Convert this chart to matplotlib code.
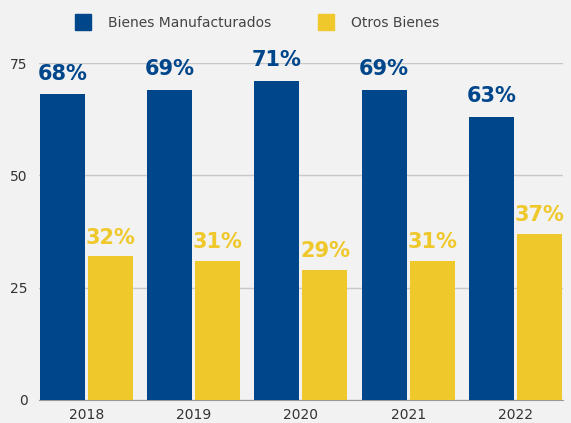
import numpy as np
import matplotlib.pyplot as plt
from matplotlib.lines import Line2D

years = ['2018', '2019', '2020', '2021', '2022']
manufacturados = [68, 69, 71, 69, 63]
otros = [32, 31, 29, 31, 37]
yticks = [0, 25, 50, 75]

BLUE = '#00468B'
YELLOW = '#EFC82C'
BG = '#F2F2F2'

plt.rcParams['font.family'] = ['DejaVu Sans']

fig = plt.figure(figsize=(5.71, 4.23), dpi=100, facecolor=BG)
ax = fig.add_axes([0.068, 0.0544, 0.918, 0.7966], facecolor=BG)

x = np.arange(len(years))
w = 0.42
off = 0.224
ax.bar(x - off, manufacturados, w, color=BLUE, zorder=3)
ax.bar(x + off, otros, w, color=YELLOW, zorder=3)

# value labels above each bar
for xi, v in zip(x, manufacturados):
    ax.text(xi - off, v + 2.4, f'{v}%', ha='center', va='bottom', color=BLUE,
            fontsize=15, fontweight='bold', zorder=4)
for xi, v in zip(x, otros):
    ax.text(xi + off, v + 1.9, f'{v}%', ha='center', va='bottom', color=YELLOW,
            fontsize=15, fontweight='bold', zorder=4)

ax.set_xlim(-0.445, 4.445)
ax.set_ylim(0, 75)
ax.set_yticks(yticks)
ax.set_xticks(x)
ax.set_xticklabels(years)
ax.tick_params(axis='both', length=0, labelsize=10, colors='#333333')
ax.tick_params(axis='x', pad=6)
ax.tick_params(axis='y', pad=8)
ax.grid(axis='y', color='#C8C8C8', linewidth=1, zorder=0)
for s in ['top', 'right', 'left']:
    ax.spines[s].set_visible(False)
ax.spines['bottom'].set_color('#999999')
ax.spines['bottom'].set_zorder(2)

handles = [
    Line2D([], [], marker='s', linestyle='', markersize=11, color=BLUE),
    Line2D([], [], marker='s', linestyle='', markersize=11, color=YELLOW),
]
fig.legend(handles, ['Bienes Manufacturados', 'Otros Bienes'], loc='upper center',
           bbox_to_anchor=(0.445, 0.992), ncol=2, frameon=False, fontsize=10,
           labelcolor='#444444', columnspacing=3.0, handletextpad=0.8)

fig.savefig('out.png', dpi=100, facecolor=BG)
